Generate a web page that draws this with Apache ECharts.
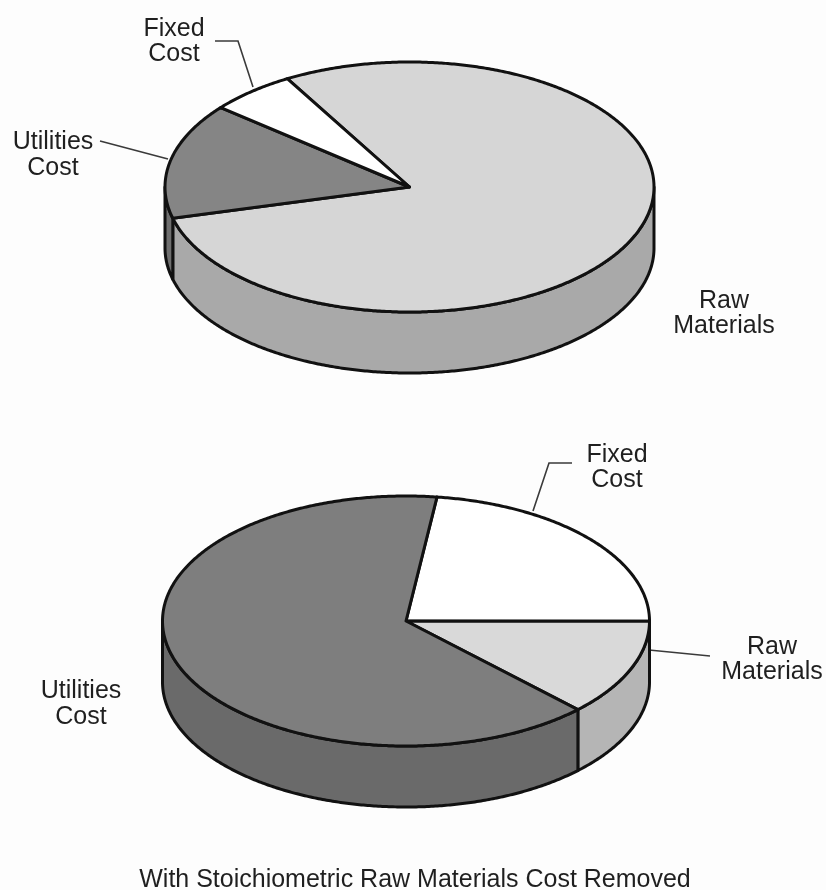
<!DOCTYPE html>
<html>
<head>
<meta charset="utf-8">
<style>html,body{margin:0;padding:0;background:#fdfdfd}#c{width:826px;height:890px}</style>
<script src="https://cdn.jsdelivr.net/npm/echarts@6/dist/echarts.min.js"></script>
</head>
<body>
<div id="c"></div>
<script>
const topCategories = ['Raw Materials', 'Utilities Cost', 'Fixed Cost'];
const topValues = [79.3, 15.0, 5.7];
const bottomCategories = ['Fixed Cost', 'Raw Materials', 'Utilities Cost'];
const bottomValues = [23.0, 12.5, 64.5];
const chartTitle = 'With Stoichiometric Raw Materials Cost Removed';

const INK = '#111111', LABEL = '#1f1f1f', FONT = '"Liberation Sans", Arial, sans-serif';
const topGeom = { cx: 409.5, cy: 187, rx: 244.5, ry: 125, depth: 61, start: 120 };
const bottomGeom = { cx: 406, cy: 621, rx: 243.5, ry: 125, depth: 61, start: 82.7 };
const topStyle = {
  'Raw Materials': ['#d6d6d6', '#a9a9a9'],
  'Utilities Cost': ['#858585', '#6f6f6f'],
  'Fixed Cost': ['#ffffff', '#ffffff']
};
const bottomStyle = {
  'Fixed Cost': ['#ffffff', '#ffffff'],
  'Raw Materials': ['#d9d9d9', '#b5b5b5'],
  'Utilities Cost': ['#7e7e7e', '#6a6a6a']
};

function pt(g, deg, dy) {
  const t = deg * Math.PI / 180;
  return [g.cx + g.rx * Math.cos(t), g.cy - g.ry * Math.sin(t) + (dy || 0)];
}
function arc(g, from, to, dy) {
  const n = Math.max(2, Math.ceil(Math.abs(from - to) * 2)), out = [];
  for (let i = 0; i <= n; i++) out.push(pt(g, from + (to - from) * i / n, dy));
  return out;
}
function pieSeries(name, cats, vals, g, styles) {
  const total = vals.reduce((a, b) => a + b, 0);
  return {
    type: 'custom', name, coordinateSystem: 'none', silent: true, clip: false,
    data: cats.map((c, i) => ({ name: c, value: [vals[i]] })),
    renderItem(params) {
      const i = params.dataIndex;
      const before = vals.slice(0, i).reduce((a, b) => a + b, 0);
      const a0 = g.start - before / total * 360;
      const a1 = a0 - vals[i] / total * 360;
      const [topFill, wallFill] = styles[cats[i]];
      const lineStyle = { stroke: INK, lineWidth: 3, lineJoin: 'round' };
      const children = [];
      // the visible rim is the lower half of the ellipse (-180..0, repeated every 360)
      for (const k of [-360, 0, 360]) {
        const hi = Math.min(a0, k), lo = Math.max(a1, k - 180);
        if (hi > lo) {
          const edge = arc(g, hi, lo, 0);
          const low = arc(g, lo, hi, g.depth);
          children.push({ type: 'polygon', shape: { points: edge.concat(low) },
            style: Object.assign({ fill: wallFill }, lineStyle) });
        }
      }
      children.push({ type: 'polygon', shape: { points: [[g.cx, g.cy]].concat(arc(g, a0, a1, 0)) },
        style: Object.assign({ fill: topFill }, lineStyle) });
      return { type: 'group', children };
    }
  };
}
function label(x, y, text, size) {
  return { type: 'text', x, y, silent: true, style: {
    text, fill: LABEL, font: (size || 25) + 'px ' + FONT,
    align: 'center', verticalAlign: 'middle', lineHeight: 25.5 } };
}
function leader(points) {
  return { type: 'polyline', silent: true, shape: { points },
    style: { stroke: '#3a3a3a', lineWidth: 1.6, fill: null } };
}
const chart = echarts.init(document.getElementById('c'), null, { renderer: 'canvas' });
chart.setOption({
  backgroundColor: '#fdfdfd',
  animation: false,
  series: [
    pieSeries('Base case', topCategories, topValues, topGeom, topStyle),
    pieSeries('Without raw materials', bottomCategories, bottomValues, bottomGeom, bottomStyle)
  ],
  graphic: [
    leader([[215, 41], [238, 41], [253, 87]]),
    leader([[100, 141], [168, 159]]),
    leader([[572, 463], [549, 463], [533, 511]]),
    leader([[649, 650], [710, 656]]),
    label(174, 41.5, 'Fixed\nCost'),
    label(53, 155, 'Utilities\nCost'),
    label(724, 313.5, 'Raw\nMaterials'),
    label(617, 467.5, 'Fixed\nCost'),
    label(772, 659.5, 'Raw\nMaterials'),
    label(81, 704, 'Utilities\nCost'),
    label(415, 880, chartTitle)
  ]
});
</script>
</body>
</html>
